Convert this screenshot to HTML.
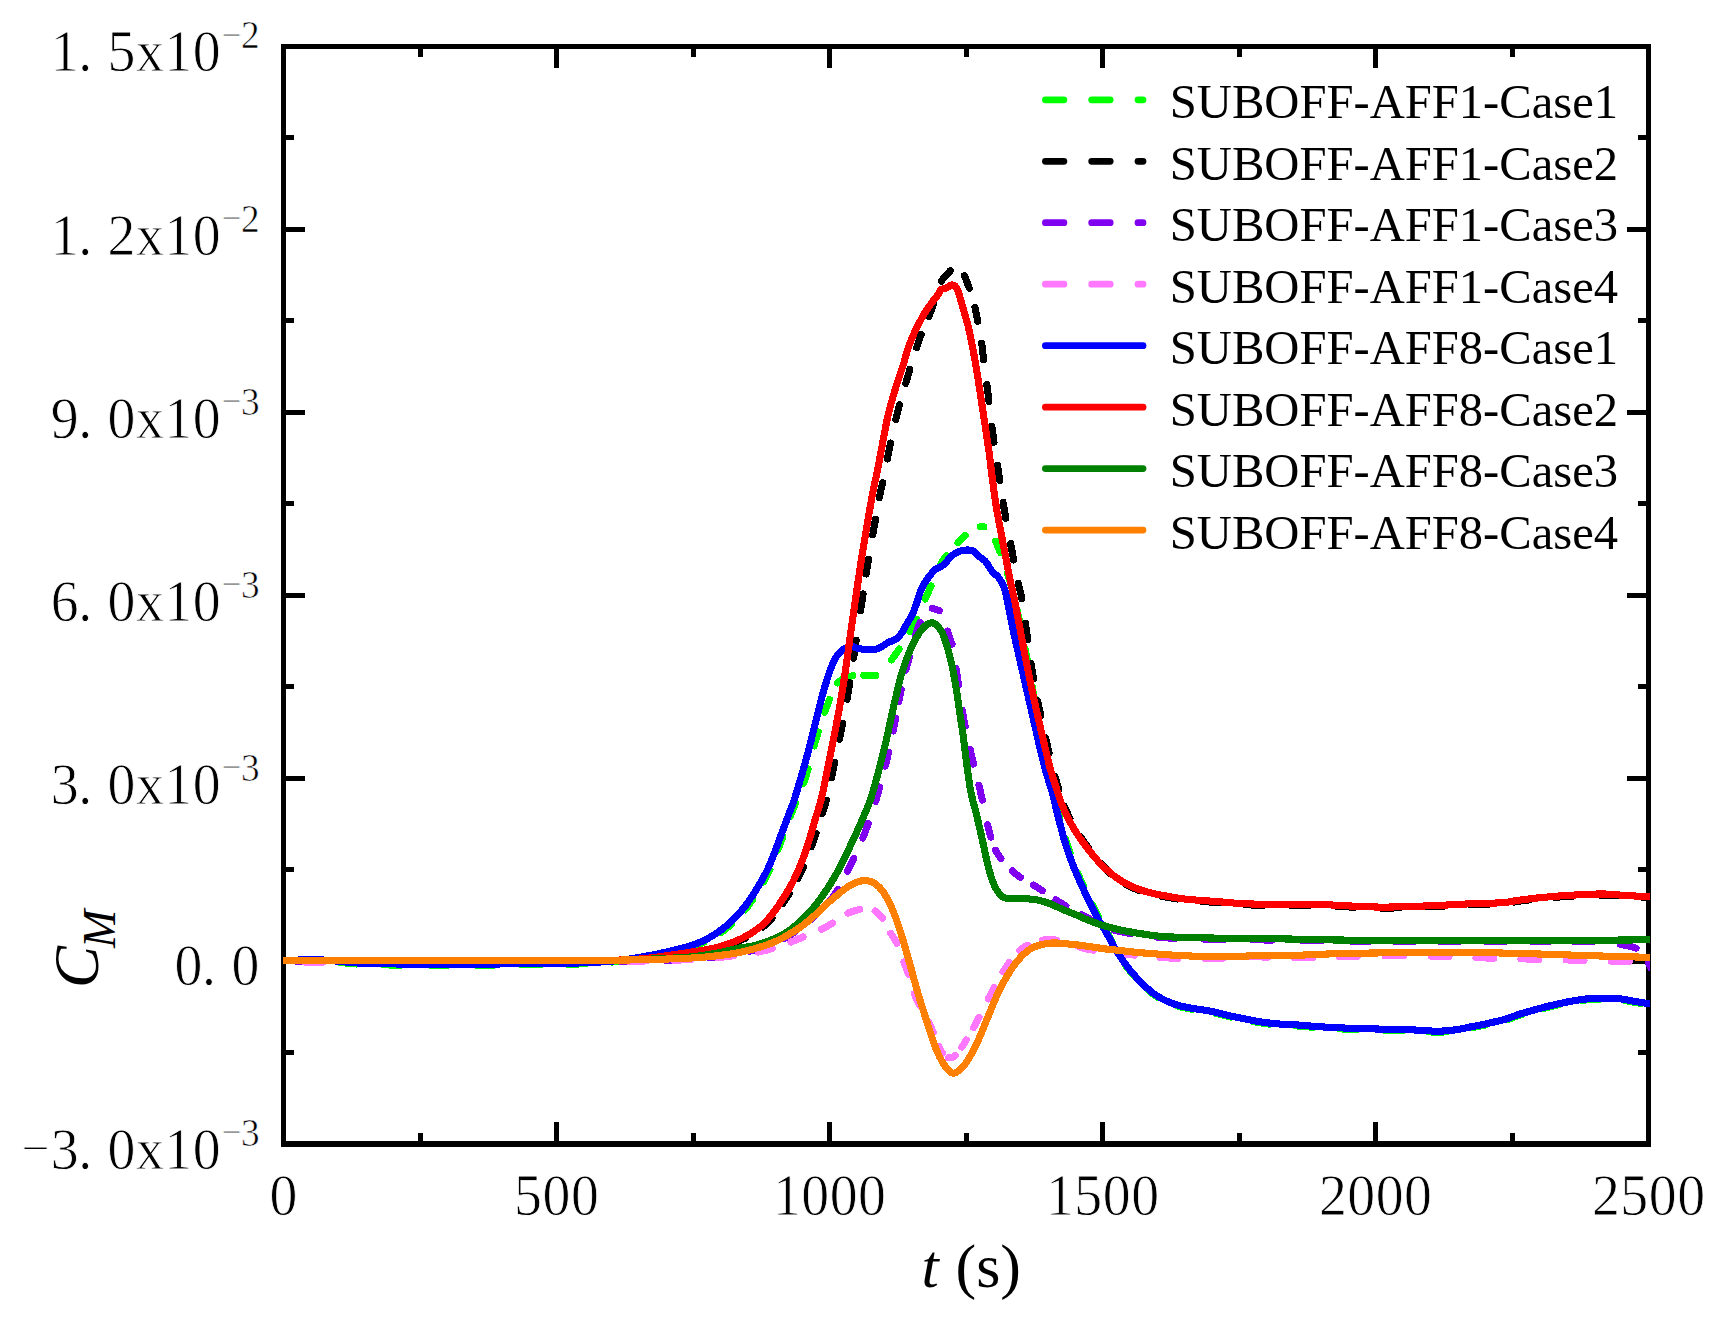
<!DOCTYPE html>
<html lang="en"><head><meta charset="utf-8"><title>CM vs t - SUBOFF AFF1 / AFF8</title>
<style>html,body{margin:0;padding:0;background:#fff;}body{width:1726px;height:1325px;overflow:hidden;}svg{display:block;}text{font-family:"Liberation Serif", "Noto Serif CJK SC", serif;fill:#000;}.tk{font-size:60px;text-anchor:middle;stroke:#fff;stroke-width:0.8px;}.sp{font-size:40px;text-anchor:middle;stroke:#fff;stroke-width:0.6px;}.lg{font-size:48.6px;}.cv{fill:none;stroke-linejoin:round;stroke-linecap:round;}</style></head><body>
<svg width="1726" height="1325" viewBox="0 0 1726 1325">
<rect width="1726" height="1325" fill="#fff"/>
<defs><clipPath id="plot"><rect x="283" y="49" width="1367" height="1092"/></clipPath></defs>
<g fill="#000" shape-rendering="crispEdges">
<rect x="281" y="44" width="5" height="1103"/>
<rect x="1646" y="44" width="5" height="1103"/>
<rect x="281" y="44" width="1370" height="5"/>
<rect x="281" y="1141" width="1370" height="6"/>
<rect x="418" y="1133" width="5" height="8"/>
<rect x="418" y="49" width="5" height="8"/>
<rect x="554" y="1122" width="5" height="19"/>
<rect x="554" y="49" width="5" height="19"/>
<rect x="691" y="1133" width="5" height="8"/>
<rect x="691" y="49" width="5" height="8"/>
<rect x="827" y="1122" width="5" height="19"/>
<rect x="827" y="49" width="5" height="19"/>
<rect x="964" y="1133" width="5" height="8"/>
<rect x="964" y="49" width="5" height="8"/>
<rect x="1100" y="1122" width="5" height="19"/>
<rect x="1100" y="49" width="5" height="19"/>
<rect x="1237" y="1133" width="5" height="8"/>
<rect x="1237" y="49" width="5" height="8"/>
<rect x="1373" y="1122" width="5" height="19"/>
<rect x="1373" y="49" width="5" height="19"/>
<rect x="1510" y="1133" width="5" height="8"/>
<rect x="1510" y="49" width="5" height="8"/>
<rect x="286" y="1050" width="8" height="5"/>
<rect x="1638" y="1050" width="8" height="5"/>
<rect x="286" y="959" width="19" height="5"/>
<rect x="1627" y="959" width="19" height="5"/>
<rect x="286" y="867" width="8" height="5"/>
<rect x="1638" y="867" width="8" height="5"/>
<rect x="286" y="776" width="19" height="5"/>
<rect x="1627" y="776" width="19" height="5"/>
<rect x="286" y="684" width="8" height="5"/>
<rect x="1638" y="684" width="8" height="5"/>
<rect x="286" y="593" width="19" height="5"/>
<rect x="1627" y="593" width="19" height="5"/>
<rect x="286" y="501" width="8" height="5"/>
<rect x="1638" y="501" width="8" height="5"/>
<rect x="286" y="410" width="19" height="5"/>
<rect x="1627" y="410" width="19" height="5"/>
<rect x="286" y="318" width="8" height="5"/>
<rect x="1638" y="318" width="8" height="5"/>
<rect x="286" y="227" width="19" height="5"/>
<rect x="1627" y="227" width="19" height="5"/>
<rect x="286" y="135" width="8" height="5"/>
<rect x="1638" y="135" width="8" height="5"/>
</g>
<g clip-path="url(#plot)" shape-rendering="crispEdges">
<path class="cv" d="M283.5 961.4C289.0 961.3 294.5 961.2 300.0 961.0C304.3 960.9 308.7 960.4 313.0 960.5C318.7 960.6 324.3 961.1 330.0 961.5C341.7 962.4 353.3 964.0 365.0 964.5C383.3 965.2 401.7 964.9 420.0 965.0C443.3 965.1 466.7 965.1 490.0 965.0C513.3 964.9 536.7 964.9 560.0 964.5C573.3 964.3 586.7 963.7 600.0 963.0C606.7 962.6 613.4 962.0 620.0 961.3C627.4 960.5 634.7 959.5 642.0 958.3C650.4 956.9 658.8 955.2 667.1 953.3C675.5 951.4 683.9 949.5 692.1 947.0C696.4 945.7 700.6 943.9 704.7 942.0C709.0 940.0 713.2 937.7 717.2 935.1C721.6 932.3 725.8 929.1 729.7 925.7C734.1 921.8 738.5 917.7 742.3 913.2C746.8 907.9 751.0 902.1 754.8 896.2C759.3 889.3 763.4 882.1 767.3 874.9C769.7 870.5 771.7 865.8 773.6 861.2C775.8 855.8 777.8 850.3 779.8 844.9C781.9 839.2 784.0 833.6 786.1 827.9C788.2 822.3 790.3 816.6 792.4 811.0C793.7 807.7 794.9 804.3 796.2 801.0C799.3 793.0 803.1 785.1 805.7 776.9C809.8 764.1 812.5 750.9 816.4 738.0C819.6 727.2 823.0 716.5 827.0 706.0C830.1 698.1 832.6 689.1 837.7 682.9C840.8 679.1 846.6 677.2 851.5 676.0C857.0 674.7 863.2 675.7 869.0 675.4C871.9 675.3 875.6 676.4 877.8 674.7C884.4 669.5 890.1 661.8 895.3 654.7C900.1 648.2 903.4 640.7 907.8 634.0C908.8 632.4 910.7 631.4 911.5 629.7C917.3 617.8 922.3 605.4 927.8 593.3C932.8 582.4 936.6 570.8 942.9 560.7C947.9 552.6 955.2 545.9 961.7 538.8C964.2 536.1 967.1 533.6 970.0 531.3C971.8 529.9 973.9 528.4 976.0 527.6C977.8 526.9 979.8 526.8 981.7 526.8C983.5 526.8 985.5 526.8 987.0 527.5C988.4 528.2 989.6 529.7 990.5 531.0C991.7 532.8 992.5 535.0 993.5 537.0C995.2 540.6 996.9 544.3 998.5 548.0C1000.4 552.6 1002.3 557.3 1004.0 562.0C1005.5 566.3 1006.7 570.6 1008.0 575.0C1010.4 583.3 1013.2 591.6 1015.0 600.0C1020.9 627.1 1026.2 654.3 1031.3 681.5C1036.5 709.6 1040.4 738.0 1046.0 766.0C1047.7 774.5 1051.0 782.7 1053.3 791.1C1055.5 799.4 1057.4 807.8 1059.5 816.1C1061.7 824.5 1063.7 832.9 1066.2 841.2C1068.8 849.7 1071.7 858.0 1074.9 866.3C1077.7 873.5 1080.9 880.5 1084.1 887.5C1087.1 894.1 1090.5 900.5 1093.7 907.0C1095.8 911.3 1097.7 915.8 1100.0 920.0C1102.0 923.6 1104.7 926.8 1106.6 930.5C1110.6 938.1 1113.3 946.3 1117.6 953.7C1121.2 959.9 1125.6 965.6 1130.1 971.2C1134.0 976.1 1138.3 980.7 1142.7 985.0C1146.6 988.8 1150.7 992.6 1155.2 995.7C1159.1 998.4 1163.4 1000.7 1167.7 1002.6C1171.7 1004.4 1176.0 1005.7 1180.3 1006.9C1184.4 1008.0 1188.6 1008.7 1192.8 1009.4C1196.9 1010.1 1201.2 1010.6 1205.3 1011.3C1209.5 1012.0 1213.7 1012.9 1217.8 1013.8C1222.0 1014.8 1226.2 1016.0 1230.4 1017.0C1234.5 1017.9 1238.7 1018.7 1242.9 1019.5C1247.1 1020.3 1251.2 1021.3 1255.4 1022.0C1259.6 1022.7 1263.8 1023.4 1268.0 1023.9C1272.2 1024.4 1276.3 1024.8 1280.5 1025.1C1285.7 1025.5 1290.8 1025.5 1296.0 1025.9C1304.1 1026.4 1312.1 1027.3 1320.2 1027.8C1330.3 1028.4 1340.3 1028.9 1350.4 1029.3C1360.5 1029.7 1370.5 1029.8 1380.6 1030.1C1390.7 1030.3 1400.7 1030.5 1410.8 1030.8C1415.8 1031.0 1420.8 1031.3 1425.8 1031.6C1429.8 1031.8 1433.9 1032.4 1437.9 1032.3C1443.9 1032.1 1450.0 1031.6 1456.0 1030.8C1461.1 1030.1 1466.1 1028.8 1471.1 1027.8C1476.1 1026.8 1481.2 1025.9 1486.2 1024.8C1492.8 1023.3 1499.5 1021.9 1506.0 1020.0C1510.8 1018.6 1515.4 1016.4 1520.2 1015.0C1530.2 1012.0 1540.3 1009.1 1550.4 1006.7C1560.4 1004.3 1570.5 1002.1 1580.6 1000.6C1588.1 999.5 1595.7 999.3 1603.2 999.1C1608.2 999.0 1613.3 999.1 1618.3 999.6C1623.4 1000.1 1628.4 1001.3 1633.4 1002.1C1639.6 1003.1 1645.8 1004.2 1652.0 1005.2" stroke="#00ff00" stroke-width="7.1" stroke-dasharray="17.8 26.0 17.0 26.9 18.4 27.7 18.5 27.8 18.4 27.7 18.4 27.4 17.9 26.2 16.8 24.2 15.6 22.9 14.4 20.4 13.2 19.7 13.2 20.2 13.7 21.3 14.4 21.6 14.4 21.3 15.0 23.7 14.7 20.6 13.8 18.5 17.0 10.9 12.0 22.3 13.5 20.5 14.1 21.9 14.4 21.3 12.7 17.3 10.3 17.8 3.5 19.5 12.2 21.9 14.9 23.0 15.6 23.6 15.8 23.8 16.0 24.2 16.1 23.9 15.1 22.6 15.3 22.8 14.7 21.6 14.0 20.8 13.9 20.4 14.0 20.3 13.2 19.7 13.2 21.0 15.5 24.1 15.3 23.6 16.2 26.1 17.2 26.3 17.8 27.2 18.1 26.6 17.5 24.4 15.7 23.0 14.5 22.5 15.3 23.8 17.2 26.3 16.0 5000.0" stroke-dashoffset="-12.6"/>
<path class="cv" d="M283.5 960.4C389.0 960.4 494.5 960.6 600.0 960.4C613.3 960.4 626.7 960.8 640.0 959.6C657.8 958.1 675.4 954.9 693.1 952.3C701.5 951.0 709.9 949.7 718.2 947.9C722.4 947.0 726.6 945.5 730.7 944.1C735.0 942.6 739.2 941.0 743.3 939.1C747.6 937.1 751.9 934.9 755.8 932.2C760.2 929.2 764.6 926.0 768.3 922.2C772.9 917.4 776.9 911.9 780.8 906.5C785.4 900.0 789.7 893.3 793.7 886.5C796.2 882.4 798.2 878.2 800.3 873.9C802.6 869.0 804.9 864.0 806.9 858.9C809.4 852.7 811.6 846.4 813.7 840.1C816.1 833.0 818.2 825.9 820.4 818.8C822.4 812.5 824.8 806.4 826.5 800.0C828.9 790.7 830.7 781.2 832.7 771.8C835.3 759.3 837.9 746.8 840.4 734.3C842.9 721.8 845.3 709.3 847.5 696.7C849.7 684.2 851.6 671.6 853.4 659.1C854.7 650.7 855.8 642.4 857.0 634.0C859.0 620.4 861.1 606.9 863.2 593.3C865.2 580.8 867.0 568.2 869.1 555.7C871.2 543.1 873.5 530.6 875.7 518.1C877.2 509.8 878.6 501.4 880.3 493.1C882.0 484.7 884.1 476.4 885.8 468.0C886.9 462.4 887.7 456.7 888.9 451.1C891.6 438.1 894.4 425.1 897.6 412.3C900.6 400.3 904.2 388.5 907.7 376.6C911.3 364.6 914.9 352.6 918.9 340.8C920.7 335.4 922.9 330.2 925.0 325.0C926.9 320.3 929.1 315.7 931.0 311.0C932.8 306.4 934.4 301.7 936.0 297.0C937.7 292.0 938.8 286.7 941.0 282.0C942.1 279.6 944.3 277.6 946.0 275.5C947.7 273.5 949.5 271.5 951.3 269.6C952.5 268.4 953.6 266.7 955.0 266.0C955.8 265.6 957.2 266.0 958.0 266.5C959.2 267.3 960.1 268.8 961.0 270.0C961.9 271.2 962.8 272.4 963.5 273.8C964.8 276.4 965.9 279.2 967.0 282.0C968.1 284.9 969.2 287.8 970.1 290.7C971.6 295.4 973.1 300.0 974.3 304.8C975.8 311.0 976.9 317.3 978.1 323.5C979.2 329.3 980.5 335.1 981.4 340.9C982.4 347.6 982.9 354.4 983.7 361.1C985.0 371.7 986.6 382.3 987.9 392.9C989.6 406.7 991.1 420.5 992.9 434.2C994.2 444.1 995.8 453.9 997.3 463.7C999.4 477.7 1001.3 491.7 1003.6 505.6C1005.7 518.2 1008.1 530.7 1010.5 543.2C1012.9 555.7 1015.3 568.3 1017.8 580.8C1019.1 587.2 1021.0 593.5 1022.0 600.0C1026.4 627.1 1029.1 654.5 1034.0 681.5C1039.1 709.8 1045.6 737.9 1052.0 766.0C1053.4 772.4 1055.6 778.6 1057.5 784.8C1059.4 791.1 1061.1 797.5 1063.4 803.6C1065.5 809.2 1068.0 814.6 1070.6 819.9C1073.2 825.0 1076.1 830.0 1079.2 834.9C1082.2 839.6 1085.5 844.2 1089.0 848.7C1092.9 853.8 1097.1 858.8 1101.4 863.7C1105.1 867.9 1108.7 872.4 1112.9 876.0C1116.7 879.3 1121.0 882.0 1125.4 884.4C1129.4 886.6 1133.7 888.4 1138.0 890.0C1142.1 891.5 1146.3 892.7 1150.5 893.8C1155.6 895.1 1160.8 896.0 1166.0 897.0C1170.8 897.9 1175.5 898.8 1180.3 899.5C1184.4 900.1 1188.6 900.4 1192.8 900.8C1197.0 901.2 1201.1 901.4 1205.3 901.7C1209.5 902.0 1213.6 902.3 1217.8 902.6C1222.0 903.0 1226.2 903.5 1230.4 903.8C1234.6 904.1 1238.7 904.4 1242.9 904.6C1247.1 904.8 1251.2 905.0 1255.4 905.1C1259.6 905.2 1263.8 905.4 1268.0 905.4C1275.3 905.5 1282.7 905.5 1290.0 905.5C1300.1 905.5 1310.1 905.3 1320.2 905.5C1330.3 905.8 1340.3 906.6 1350.4 907.0C1360.5 907.4 1370.5 908.0 1380.6 908.1C1390.7 908.2 1400.7 907.8 1410.8 907.5C1420.8 907.2 1430.9 906.7 1440.9 906.3C1451.0 905.8 1461.0 905.2 1471.1 904.8C1477.4 904.5 1483.7 904.6 1490.0 904.3C1495.3 904.1 1500.7 903.9 1506.0 903.3C1510.8 902.8 1515.4 901.6 1520.2 901.0C1530.2 899.7 1540.3 898.6 1550.4 897.7C1560.4 896.8 1570.5 896.2 1580.6 895.7C1588.1 895.3 1595.7 894.9 1603.2 895.0C1610.7 895.1 1618.3 896.0 1625.8 896.5C1634.5 897.0 1643.3 897.5 1652.0 898.0" stroke="#000000" stroke-width="7.1" stroke-dasharray="18.5 27.8 18.5 27.8 18.5 27.8 18.5 27.8 18.5 27.8 18.5 27.8 18.5 27.7 18.3 25.8 16.4 24.4 16.1 22.8 14.5 21.0 12.8 18.2 11.7 17.1 13.0 22.0 14.2 20.4 14.1 23.3 15.6 23.5 16.0 24.8 16.5 24.9 18.3 30.0 16.7 20.2 15.0 24.7 15.6 22.2 15.3 24.2 16.2 23.9 15.4 22.2 14.9 22.5 14.0 19.4 14.2 23.6 13.8 20.7 13.6 19.8 14.3 22.4 16.4 25.3 16.8 25.0 16.2 23.5 15.2 22.1 16.0 26.0 16.6 23.9 15.7 24.7 16.4 24.1 15.6 22.7 15.1 22.6 15.5 23.8 13.8 18.3 13.0 20.9 13.7 20.5 13.4 20.0 14.1 22.8 15.9 25.4 17.3 25.9 17.9 27.6 18.4 27.0 17.6 26.9 18.2 26.9 17.7 26.5 18.0 25.7 16.4 25.4 17.4 26.7 17.7 26.2 9.4 5000.0" stroke-dashoffset="-2.0"/>
<path class="cv" d="M283.5 961.6C389.0 961.6 494.5 961.7 600.0 961.6C613.3 961.6 626.7 961.5 640.0 961.2C656.7 960.8 673.4 960.2 690.1 959.3C698.5 958.9 706.9 958.2 715.2 957.2C723.6 956.2 732.0 955.2 740.3 953.5C748.7 951.7 757.1 949.2 765.3 946.6C769.6 945.2 773.8 943.5 777.8 941.6C782.1 939.6 786.3 937.2 790.4 934.7C794.7 932.1 799.0 929.5 802.9 926.5C807.3 923.1 811.5 919.4 815.4 915.5C821.9 909.0 829.0 902.7 834.2 895.2C840.7 885.9 845.5 875.4 850.5 865.2C855.4 855.3 860.0 845.3 864.0 835.0C868.5 823.5 872.3 811.8 876.0 800.0C878.9 790.7 881.4 781.2 883.8 771.8C886.0 763.5 887.9 755.2 889.8 746.8C891.7 738.5 893.3 730.1 895.0 721.7C896.7 713.4 898.1 705.0 899.8 696.7C901.5 688.3 903.2 679.9 905.3 671.6C907.0 665.0 909.2 658.6 911.0 652.0C912.7 645.8 914.1 639.5 916.0 633.3C917.2 629.5 918.8 625.8 920.2 622.0C921.4 618.8 922.3 615.3 924.0 612.5C924.9 610.9 926.6 609.6 928.2 608.8C929.3 608.2 930.8 608.2 932.0 608.3C933.7 608.5 935.4 609.2 937.0 609.8C938.9 610.6 941.4 611.0 942.6 612.5C944.0 614.3 944.4 617.1 945.0 619.5C945.8 622.4 946.0 625.3 946.8 628.2C947.9 632.3 949.2 636.3 950.5 640.3C951.2 642.4 952.3 644.4 952.7 646.5C954.6 656.5 955.8 666.6 957.3 676.6C959.4 690.4 961.1 704.3 963.6 718.0C966.0 731.0 968.9 743.9 971.8 756.8C974.5 768.5 977.8 780.2 980.5 791.9C983.7 805.4 985.8 819.1 989.5 832.4C991.5 839.7 993.6 847.4 997.6 853.7C1002.5 861.4 1009.4 868.4 1016.4 874.4C1022.7 879.7 1030.7 883.1 1037.7 887.6C1045.3 892.5 1052.6 897.9 1060.3 902.6C1069.3 908.0 1078.6 912.9 1087.8 918.0C1093.5 921.2 1098.9 925.4 1105.0 927.6C1113.0 930.5 1121.6 931.9 1130.0 933.4C1138.3 934.9 1146.6 935.9 1155.0 936.8C1163.3 937.7 1171.7 938.3 1180.0 938.6C1196.7 939.2 1213.3 939.4 1230.0 939.6C1252.0 939.9 1274.0 940.0 1296.0 940.3C1330.7 940.7 1365.3 941.5 1400.0 941.6C1466.7 941.9 1533.3 941.4 1600.0 941.6C1603.3 941.6 1606.7 941.9 1610.0 942.3C1612.8 942.6 1615.6 943.2 1618.3 943.8C1625.1 945.4 1632.3 946.6 1638.7 949.1C1640.9 950.0 1642.6 952.1 1644.0 954.0C1645.7 956.4 1646.7 959.3 1648.0 962.0C1649.0 964.0 1650.0 966.0 1651.0 968.0" stroke="#8000f0" stroke-width="7.1" stroke-dasharray="18.5 27.8 18.5 27.8 18.5 27.8 18.5 27.8 18.5 27.8 18.5 27.8 18.5 27.7 18.2 27.0 17.7 26.0 16.6 23.7 14.9 21.2 13.5 19.9 12.0 16.5 12.2 20.6 14.3 22.4 15.3 23.4 15.0 21.6 14.4 21.7 12.9 17.0 12.3 19.7 13.9 23.0 13.3 20.3 7.4 22.9 14.0 24.7 16.8 25.2 16.3 23.8 15.1 21.6 15.5 25.1 12.9 13.8 10.0 16.8 10.5 15.1 10.4 16.3 11.6 18.5 13.4 22.7 16.8 26.4 18.4 28.8 19.5 29.3 19.6 29.3 19.5 29.2 18.5 26.4 17.9 27.2 18.2 27.4 18.2 27.4 17.5 25.2 18.4 27.8 16.0 20.6 5.5 5000.0" stroke-dashoffset="-13.6"/>
<path class="cv" d="M283.5 962.0C304.0 962.0 324.5 962.1 345.0 962.0C363.3 961.9 381.7 961.3 400.0 961.2C480.0 960.9 560.0 961.6 640.0 961.0C660.0 960.9 680.0 960.2 700.0 959.0C713.4 958.2 726.7 956.7 740.0 955.0C748.4 953.9 756.8 952.4 765.0 950.5C770.1 949.4 775.1 947.7 780.0 946.0C785.6 944.1 791.1 942.0 796.6 939.7C806.7 935.5 817.0 931.6 826.7 926.6C833.5 923.1 839.2 917.4 846.0 914.0C851.2 911.4 857.0 910.2 862.6 908.6C864.3 908.1 866.1 907.6 867.8 907.7C869.6 907.9 871.5 908.4 873.0 909.5C876.7 912.2 880.6 915.3 883.4 919.0C886.1 922.6 887.3 927.2 889.5 931.2C892.2 936.0 895.8 940.3 898.1 945.3C900.4 950.2 901.6 955.6 903.4 960.7C905.1 965.4 907.0 969.9 908.6 974.6C911.3 982.7 913.1 991.1 916.4 998.9C919.7 1006.7 924.7 1013.8 928.5 1021.4C930.5 1025.4 932.0 1029.5 933.7 1033.6C936.0 1039.1 937.7 1045.0 940.7 1050.1C942.4 1053.0 944.9 1056.3 947.6 1057.5C949.5 1058.3 952.9 1057.5 954.6 1056.1C958.1 1053.3 960.6 1048.8 963.2 1044.9C967.6 1038.1 971.6 1031.1 975.4 1024.0C980.8 1014.0 985.6 1003.7 991.0 993.7C995.7 984.9 1000.1 975.7 1005.8 967.6C1010.8 960.5 1016.1 952.8 1023.1 948.0C1029.7 943.4 1038.6 940.5 1046.6 939.5C1052.8 938.7 1059.4 941.0 1065.7 942.5C1072.1 944.0 1078.3 946.7 1084.7 948.5C1087.2 949.2 1089.9 949.6 1092.5 950.0C1096.7 950.7 1100.8 951.5 1105.0 952.0C1113.3 953.0 1121.7 953.9 1130.0 954.7C1138.3 955.5 1146.7 956.4 1155.0 957.0C1163.3 957.6 1171.7 958.2 1180.0 958.5C1188.3 958.8 1196.7 958.8 1205.0 958.7C1213.3 958.6 1221.7 958.1 1230.0 957.8C1238.3 957.5 1246.7 956.8 1255.0 956.8C1266.7 956.8 1278.3 958.1 1290.0 958.0C1310.0 957.9 1330.0 956.7 1350.0 956.3C1366.7 956.0 1383.3 955.8 1400.0 955.8C1416.7 955.8 1433.3 956.1 1450.0 956.5C1463.3 956.8 1476.7 957.7 1490.0 958.1C1510.0 958.7 1530.0 959.0 1550.0 959.5C1566.7 959.9 1583.3 960.4 1600.0 960.8C1617.3 961.2 1634.7 961.6 1652.0 962.0" stroke="#ff78ff" stroke-width="7.1" stroke-dasharray="18.5 27.7 18.2 27.4 18.4 27.8 18.5 27.8 18.5 27.8 18.5 27.8 18.5 27.7 18.4 27.2 17.7 26.0 16.8 24.4 14.7 19.8 13.1 19.8 12.7 18.6 12.2 16.5 10.3 17.2 11.8 20.0 13.1 20.1 13.0 19.1 11.5 14.9 7.5 8.0 7.1 10.5 8.3 14.5 11.7 20.5 12.8 18.1 11.2 15.7 9.9 15.0 14.3 23.1 15.4 24.7 16.9 25.7 17.5 27.4 17.9 26.6 18.1 26.9 18.1 26.9 18.1 27.5 18.4 27.5 18.1 26.8 17.8 27.2 18.1 27.1 18.0 27.1 18.1 5000.0" stroke-dashoffset="-21.4"/>
<path class="cv" d="M283.5 960.4C289.0 960.3 294.5 960.2 300.0 960.0C304.3 959.9 308.7 959.4 313.0 959.5C318.7 959.6 324.3 960.1 330.0 960.5C341.7 961.4 353.3 963.0 365.0 963.5C383.3 964.2 401.7 963.9 420.0 964.0C443.3 964.1 466.7 964.1 490.0 964.0C513.3 963.9 536.7 963.9 560.0 963.5C573.3 963.3 586.7 962.7 600.0 962.0C606.7 961.6 613.4 961.1 620.0 960.3C626.7 959.5 633.4 958.5 640.0 957.3C648.4 955.8 656.8 954.2 665.1 952.3C673.5 950.4 681.9 948.5 690.1 946.0C694.4 944.7 698.6 942.9 702.7 941.0C707.0 939.0 711.2 936.7 715.2 934.1C719.6 931.3 723.8 928.1 727.7 924.7C732.1 920.8 736.5 916.7 740.3 912.2C744.8 906.9 749.0 901.1 752.8 895.2C757.3 888.3 761.4 881.1 765.3 873.9C767.7 869.5 769.7 864.8 771.6 860.2C773.8 854.8 775.8 849.3 777.8 843.9C779.9 838.2 782.0 832.6 784.1 826.9C786.2 821.3 788.3 815.6 790.4 810.0C791.7 806.7 793.1 803.4 794.2 800.0C797.2 790.7 799.9 781.2 802.6 771.8C805.0 763.5 807.3 755.2 809.5 746.8C811.7 738.5 813.6 730.1 815.7 721.7C817.8 713.4 819.7 705.0 822.0 696.7C823.7 690.4 825.6 684.1 827.6 677.9C828.9 673.7 830.3 669.4 832.0 665.3C833.2 662.3 834.5 659.2 836.4 656.6C838.5 653.8 841.0 650.9 843.9 649.0C846.1 647.6 849.0 646.6 851.5 646.5C853.6 646.4 855.6 648.0 857.7 648.4C861.0 649.0 864.4 649.6 867.7 649.7C870.6 649.8 873.7 649.7 876.5 649.0C878.7 648.4 880.8 647.0 882.8 645.9C884.9 644.7 886.8 643.2 889.0 642.1C891.0 641.1 893.5 640.8 895.3 639.6C897.5 638.1 899.4 636.1 901.0 634.0C903.2 631.1 904.7 627.7 906.5 624.6C908.6 620.9 911.0 617.3 912.8 613.4C914.8 609.0 916.2 604.2 917.8 599.6C919.1 595.9 919.9 591.9 921.6 588.3C923.3 584.8 925.5 581.5 927.8 578.3C930.1 575.2 932.4 572.0 935.3 569.5C937.8 567.4 941.5 566.6 944.1 564.5C946.6 562.5 948.0 559.2 950.4 557.0C952.6 555.0 955.2 553.2 957.9 552.0C960.2 550.9 962.9 550.3 965.4 550.1C967.9 549.9 970.8 549.7 972.9 550.7C974.9 551.6 976.1 554.2 977.9 555.7C980.3 557.7 983.4 559.1 985.5 561.4C988.0 564.1 989.3 567.9 991.7 570.8C993.9 573.5 997.2 575.5 999.2 578.3C1001.4 581.3 1003.0 584.8 1004.3 588.3C1005.7 592.0 1006.4 596.1 1007.2 600.0C1009.6 611.3 1011.5 622.7 1014.0 634.0C1018.8 656.0 1024.0 678.0 1029.0 700.0C1034.1 722.0 1038.8 744.1 1044.3 766.0C1046.4 774.5 1049.5 782.7 1051.8 791.1C1054.1 799.4 1055.9 807.8 1058.0 816.1C1060.2 824.5 1062.2 832.9 1064.7 841.2C1067.3 849.7 1070.2 858.0 1073.4 866.3C1076.2 873.5 1079.4 880.5 1082.6 887.5C1085.6 894.1 1089.0 900.5 1092.2 907.0C1094.3 911.3 1096.2 915.8 1098.5 920.0C1100.5 923.6 1103.0 926.9 1105.1 930.5C1109.4 937.8 1113.1 945.5 1117.6 952.7C1121.4 958.8 1125.6 964.6 1130.1 970.2C1134.0 975.1 1138.3 979.7 1142.7 984.0C1146.6 987.8 1150.7 991.6 1155.2 994.7C1159.1 997.4 1163.4 999.7 1167.7 1001.6C1171.7 1003.4 1176.0 1004.7 1180.3 1005.9C1184.4 1007.0 1188.6 1007.7 1192.8 1008.4C1196.9 1009.1 1201.2 1009.6 1205.3 1010.3C1209.5 1011.0 1213.7 1011.9 1217.8 1012.8C1222.0 1013.8 1226.2 1015.0 1230.4 1016.0C1234.5 1016.9 1238.7 1017.7 1242.9 1018.5C1247.1 1019.3 1251.2 1020.3 1255.4 1021.0C1259.6 1021.7 1263.8 1022.4 1268.0 1022.9C1272.2 1023.4 1276.3 1023.8 1280.5 1024.1C1285.7 1024.5 1290.8 1024.5 1296.0 1024.9C1304.1 1025.4 1312.1 1026.3 1320.2 1026.8C1330.3 1027.4 1340.3 1027.9 1350.4 1028.3C1360.5 1028.7 1370.5 1028.8 1380.6 1029.1C1390.7 1029.3 1400.7 1029.5 1410.8 1029.8C1415.8 1030.0 1420.8 1030.3 1425.8 1030.6C1429.8 1030.8 1433.9 1031.4 1437.9 1031.3C1443.9 1031.1 1450.0 1030.6 1456.0 1029.8C1461.1 1029.1 1466.1 1027.8 1471.1 1026.8C1476.1 1025.8 1481.2 1024.9 1486.2 1023.8C1492.8 1022.3 1499.5 1020.9 1506.0 1019.0C1510.8 1017.6 1515.4 1015.4 1520.2 1014.0C1530.2 1011.0 1540.3 1008.1 1550.4 1005.7C1560.4 1003.3 1570.5 1001.1 1580.6 999.6C1588.1 998.5 1595.7 998.3 1603.2 998.1C1608.2 998.0 1613.3 998.1 1618.3 998.6C1623.4 999.1 1628.4 1000.3 1633.4 1001.1C1639.6 1002.1 1645.8 1003.2 1652.0 1004.2" stroke="#0000ff" stroke-width="7.1"/>
<path class="cv" d="M283.5 960.4C389.0 960.4 494.5 960.8 600.0 960.4C613.3 960.3 626.7 960.2 640.0 959.0C656.8 957.5 673.4 954.8 690.1 952.3C698.5 951.1 706.9 949.7 715.2 947.9C719.4 947.0 723.6 945.5 727.7 944.1C732.0 942.6 736.2 941.0 740.3 939.1C744.6 937.1 748.9 934.9 752.8 932.2C757.2 929.2 761.6 926.0 765.3 922.2C769.9 917.4 774.0 912.0 777.8 906.5C782.3 900.1 786.5 893.3 790.4 886.5C792.7 882.5 794.7 878.2 796.6 873.9C798.8 869.0 801.0 864.0 802.9 858.9C805.2 852.7 807.2 846.4 809.2 840.1C811.4 833.0 813.3 825.9 815.4 818.8C817.2 812.5 819.4 806.3 821.0 800.0C823.3 790.7 825.1 781.2 827.0 771.8C829.6 759.3 832.1 746.8 834.5 734.3C836.9 721.8 839.3 709.3 841.4 696.7C843.5 684.2 845.3 671.6 847.1 659.1C848.3 650.7 849.3 642.4 850.5 634.0C852.4 620.4 854.4 606.9 856.4 593.3C858.2 580.8 860.0 568.2 862.0 555.7C864.0 543.1 866.2 530.6 868.3 518.1C869.7 509.8 871.1 501.4 872.7 493.1C874.3 484.7 876.3 476.4 878.0 468.0C879.8 458.6 881.4 449.2 883.2 439.8C884.8 431.5 886.2 423.1 888.2 414.8C890.2 406.4 892.6 398.0 895.1 389.7C897.6 381.3 900.7 373.1 903.3 364.7C905.0 359.1 906.3 353.4 908.2 347.9C909.8 343.1 911.8 338.5 913.8 333.9C915.5 330.1 917.5 326.3 919.4 322.6C921.2 319.1 923.0 315.6 925.1 312.3C927.1 309.1 929.4 306.0 931.6 302.9C933.7 300.0 936.1 297.3 938.2 294.4C939.3 292.9 939.7 290.6 941.0 289.5C942.2 288.6 944.2 288.9 945.7 288.3C947.7 287.5 949.3 285.6 951.3 285.1C952.5 284.8 954.2 285.2 955.1 286.0C956.4 287.1 957.2 289.0 957.9 290.7C959.1 293.7 959.8 297.0 960.7 300.1C962.0 304.5 963.3 308.8 964.5 313.2C965.8 317.6 967.1 322.0 968.2 326.4C969.3 330.7 970.1 335.1 971.0 339.5C972.0 344.5 973.0 349.5 973.9 354.5C975.3 362.1 976.6 369.6 977.8 377.2C979.1 385.5 980.3 393.9 981.6 402.2C982.9 410.6 984.1 418.9 985.4 427.3C986.6 435.7 987.9 444.0 989.1 452.4C989.8 457.6 990.3 462.8 991.0 468.0C992.6 480.5 994.1 493.1 996.1 505.6C998.1 518.2 1000.6 530.7 1003.0 543.2C1005.4 555.7 1007.8 568.3 1010.3 580.8C1011.6 587.2 1013.2 593.6 1014.5 600.0C1019.9 627.1 1024.5 654.4 1030.2 681.5C1036.2 709.8 1042.7 737.9 1049.5 766.0C1051.0 772.4 1053.3 778.6 1055.3 784.8C1057.3 791.1 1059.1 797.5 1061.5 803.6C1063.7 809.2 1066.2 814.6 1069.0 819.9C1071.7 825.0 1074.6 830.1 1077.8 834.9C1080.9 839.7 1084.3 844.2 1087.8 848.7C1091.8 853.8 1095.9 859.0 1100.4 863.7C1104.3 867.8 1108.5 871.5 1112.9 875.0C1116.8 878.1 1121.0 881.0 1125.4 883.4C1129.4 885.6 1133.7 887.4 1138.0 889.0C1142.1 890.5 1146.3 891.7 1150.5 892.8C1155.6 894.1 1160.8 895.0 1166.0 896.0C1170.8 896.9 1175.5 897.8 1180.3 898.5C1184.4 899.1 1188.6 899.4 1192.8 899.8C1197.0 900.2 1201.1 900.4 1205.3 900.7C1209.5 901.0 1213.6 901.3 1217.8 901.6C1222.0 902.0 1226.2 902.5 1230.4 902.8C1234.6 903.1 1238.7 903.4 1242.9 903.6C1247.1 903.8 1251.2 904.0 1255.4 904.1C1259.6 904.2 1263.8 904.4 1268.0 904.4C1275.3 904.5 1282.7 904.5 1290.0 904.5C1300.1 904.5 1310.1 904.3 1320.2 904.5C1330.3 904.8 1340.3 905.6 1350.4 906.0C1360.5 906.4 1370.5 907.0 1380.6 907.1C1390.7 907.2 1400.7 906.8 1410.8 906.5C1420.8 906.2 1430.9 905.7 1440.9 905.3C1451.0 904.8 1461.0 904.2 1471.1 903.8C1477.4 903.5 1483.7 903.6 1490.0 903.3C1495.3 903.1 1500.7 902.9 1506.0 902.3C1510.8 901.8 1515.4 900.6 1520.2 900.0C1530.2 898.7 1540.3 897.6 1550.4 896.7C1560.4 895.8 1570.5 895.2 1580.6 894.7C1588.1 894.3 1595.7 893.9 1603.2 894.0C1610.7 894.1 1618.3 895.0 1625.8 895.5C1634.5 896.0 1643.3 896.5 1652.0 897.0" stroke="#ff0000" stroke-width="7.1"/>
<path class="cv" d="M283.5 960.4C389.0 960.4 494.5 960.7 600.0 960.4C613.3 960.4 626.7 960.0 640.0 959.5C656.7 958.9 673.4 958.3 690.0 957.0C698.4 956.3 706.7 955.0 715.0 953.5C723.5 952.0 731.8 949.6 740.3 947.9C744.4 947.1 748.7 946.9 752.8 946.0C757.0 945.0 761.2 943.6 765.3 942.2C769.5 940.7 773.8 939.2 777.8 937.2C782.2 935.0 786.5 932.6 790.4 929.7C794.8 926.5 799.0 922.8 802.9 919.0C807.3 914.7 811.5 910.1 815.4 905.3C819.9 899.7 824.1 893.8 828.0 887.7C832.5 880.8 836.7 873.7 840.5 866.4C845.0 857.8 848.8 848.9 853.0 840.1C854.0 838.0 855.1 835.9 856.0 833.8C860.8 822.6 866.2 811.5 870.3 800.0C873.6 790.8 875.8 781.2 878.4 771.8C880.6 763.5 882.7 755.2 884.7 746.8C886.7 738.5 888.4 730.1 890.3 721.7C892.2 713.4 893.9 705.0 895.9 696.7C897.9 688.3 899.6 679.8 902.2 671.6C904.9 663.1 908.1 654.7 911.6 646.5C913.5 642.1 915.9 638.0 918.5 634.0C920.4 631.1 922.4 628.2 925.0 626.0C926.8 624.4 929.4 622.9 931.6 622.8C933.4 622.7 935.6 624.1 937.0 625.5C939.4 627.9 941.6 630.8 942.9 634.0C946.1 642.0 948.4 650.6 950.5 659.1C952.6 667.3 954.0 675.7 955.5 684.1C956.9 692.4 958.0 700.8 959.2 709.2C960.5 717.6 961.8 725.9 963.0 734.3C964.3 743.5 965.2 752.8 966.5 762.0C967.8 771.7 968.9 781.5 970.7 791.1C972.3 799.5 974.9 807.7 976.9 816.1C978.9 824.4 980.7 832.8 982.6 841.2C984.3 848.7 985.7 856.2 987.6 863.7C989.1 869.6 990.5 875.6 992.6 881.3C993.9 884.8 995.5 888.3 997.6 891.3C999.3 893.7 1001.4 896.4 1003.9 897.6C1006.4 898.8 1009.8 898.5 1012.7 898.6C1016.9 898.8 1021.0 898.4 1025.2 898.6C1029.4 898.9 1033.6 899.3 1037.7 900.1C1042.0 901.0 1046.2 902.3 1050.3 903.8C1054.6 905.4 1058.6 907.7 1062.8 909.5C1066.9 911.3 1071.2 912.8 1075.3 914.5C1079.5 916.3 1083.6 918.3 1087.8 920.0C1091.9 921.7 1096.2 923.2 1100.4 924.6C1104.5 925.9 1108.7 927.1 1112.9 928.2C1117.0 929.3 1121.2 930.2 1125.4 931.0C1129.6 931.8 1133.8 932.5 1138.0 933.2C1143.7 934.1 1149.4 935.1 1155.2 935.8C1159.3 936.3 1163.5 936.3 1167.7 936.6C1171.9 936.9 1176.1 937.3 1180.3 937.4C1188.6 937.7 1197.0 937.8 1205.3 937.9C1213.7 938.1 1222.0 938.2 1230.4 938.3C1238.7 938.4 1247.1 938.5 1255.4 938.6C1268.9 938.8 1282.5 938.9 1296.0 939.1C1309.0 939.3 1322.0 939.8 1335.0 940.0C1356.7 940.2 1378.3 940.3 1400.0 940.3C1433.3 940.4 1466.7 940.3 1500.0 940.3C1533.3 940.3 1566.7 940.3 1600.0 940.2C1617.3 940.1 1634.7 939.9 1652.0 939.8" stroke="#008000" stroke-width="7.1"/>
<path class="cv" d="M283.5 960.4C322.3 960.4 361.2 960.4 400.0 960.4C433.3 960.4 466.7 960.4 500.0 960.4C533.3 960.4 566.7 960.3 600.0 960.2C613.3 960.1 626.7 960.1 640.0 959.8C656.7 959.4 673.4 958.9 690.1 958.1C698.5 957.7 706.9 957.0 715.2 956.0C723.6 955.0 732.0 954.0 740.3 952.3C748.7 950.5 757.1 948.0 765.3 945.4C769.6 944.0 773.8 942.3 777.8 940.4C782.1 938.4 786.3 936.0 790.4 933.5C794.7 930.9 798.9 928.3 802.9 925.3C807.3 922.0 811.3 918.3 815.4 914.7C819.7 910.8 823.7 906.6 828.0 902.8C832.1 899.2 836.2 895.7 840.5 892.3C843.1 890.2 845.8 888.1 848.7 886.3C851.5 884.6 854.4 883.0 857.4 882.0C860.1 881.1 863.2 880.3 866.0 880.5C869.0 880.7 872.2 881.7 874.7 883.4C878.0 885.6 881.1 888.8 883.4 892.1C886.9 897.2 889.7 902.9 892.1 908.6C895.5 916.5 898.2 924.7 900.8 932.9C903.9 942.6 906.6 952.5 909.4 962.4C912.4 972.8 915.0 983.3 918.1 993.7C920.8 1003.0 923.8 1012.2 926.8 1021.4C929.6 1030.1 932.1 1039.0 935.5 1047.5C937.9 1053.5 940.6 1059.5 944.1 1064.8C946.3 1068.1 949.6 1072.6 952.8 1073.2C955.4 1073.7 959.2 1070.6 961.5 1068.3C965.0 1064.9 967.7 1060.4 970.2 1056.1C973.5 1050.6 976.2 1044.7 978.9 1038.8C982.0 1032.0 984.6 1024.9 987.5 1018.0C990.4 1011.0 993.1 1004.0 996.2 997.1C998.9 991.2 1001.8 985.4 1004.9 979.8C1007.6 975.0 1010.4 970.3 1013.6 965.9C1016.2 962.2 1019.1 958.7 1022.3 955.5C1024.9 952.9 1027.8 950.4 1030.9 948.5C1033.5 946.9 1036.6 946.0 1039.6 945.1C1042.4 944.3 1045.4 943.7 1048.3 943.3C1051.2 943.0 1054.1 942.9 1057.0 943.0C1059.9 943.1 1062.8 943.4 1065.7 943.7C1068.6 944.0 1071.4 944.4 1074.3 944.7C1076.2 944.9 1078.1 945.0 1080.0 945.2C1084.2 945.7 1088.3 946.4 1092.5 947.0C1096.7 947.6 1100.9 948.4 1105.1 948.9C1109.3 949.4 1113.4 949.7 1117.6 950.2C1121.8 950.7 1125.9 951.3 1130.1 951.7C1134.3 952.2 1138.5 952.5 1142.7 952.9C1146.9 953.3 1151.0 953.6 1155.2 953.9C1159.4 954.2 1163.5 954.5 1167.7 954.8C1171.9 955.1 1176.1 955.4 1180.3 955.6C1184.5 955.8 1188.6 956.0 1192.8 956.1C1197.0 956.2 1201.1 956.4 1205.3 956.4C1213.7 956.5 1222.0 956.5 1230.4 956.4C1238.7 956.3 1247.1 956.0 1255.4 955.8C1263.8 955.6 1272.1 955.5 1280.5 955.4C1285.7 955.3 1290.8 955.4 1296.0 955.3C1304.0 955.1 1312.0 954.6 1320.0 954.3C1330.0 953.9 1340.0 953.5 1350.0 953.3C1366.7 953.0 1383.3 952.9 1400.0 952.8C1416.7 952.7 1433.3 952.8 1450.0 952.8C1463.3 952.8 1476.7 952.6 1490.0 952.8C1500.1 952.9 1510.1 953.3 1520.2 953.6C1530.3 953.8 1540.3 954.0 1550.4 954.3C1560.5 954.6 1570.5 955.1 1580.6 955.4C1590.7 955.7 1600.7 956.0 1610.8 956.3C1624.5 956.7 1638.3 957.0 1652.0 957.4" stroke="#ff8000" stroke-width="7.1"/>
</g>
<text class="tk" transform="scale(0.93,1)" y="71.3" x="69.6 91.6 130.6 161.2 191.7 222.3">1.5x10</text>
<text class="sp" transform="scale(0.93,1)" y="48.3" x="269.1">2</text>
<text y="46.6" x="231.5" style="font-size:36px;text-anchor:middle;stroke:#fff;stroke-width:0.9px">−</text>
<text class="tk" transform="scale(0.93,1)" y="255.1" x="69.6 91.6 130.6 161.2 191.7 222.3">1.2x10</text>
<text class="sp" transform="scale(0.93,1)" y="232.1" x="269.1">2</text>
<text y="230.4" x="231.5" style="font-size:36px;text-anchor:middle;stroke:#fff;stroke-width:0.9px">−</text>
<text class="tk" transform="scale(0.93,1)" y="438.1" x="69.6 91.6 130.6 161.2 191.7 222.3">9.0x10</text>
<text class="sp" transform="scale(0.93,1)" y="415.1" x="269.1">3</text>
<text y="413.4" x="231.5" style="font-size:36px;text-anchor:middle;stroke:#fff;stroke-width:0.9px">−</text>
<text class="tk" transform="scale(0.93,1)" y="620.9" x="69.6 91.6 130.6 161.2 191.7 222.3">6.0x10</text>
<text class="sp" transform="scale(0.93,1)" y="597.9" x="269.1">3</text>
<text y="596.1" x="231.5" style="font-size:36px;text-anchor:middle;stroke:#fff;stroke-width:0.9px">−</text>
<text class="tk" transform="scale(0.93,1)" y="803.8" x="69.6 91.6 130.6 161.2 191.7 222.3">3.0x10</text>
<text class="sp" transform="scale(0.93,1)" y="780.8" x="269.1">3</text>
<text y="779.1" x="231.5" style="font-size:36px;text-anchor:middle;stroke:#fff;stroke-width:0.9px">−</text>
<text class="tk" transform="scale(0.93,1)" y="984.6" x="202.7 224.7 263.8">0.0</text>
<text y="1165.3" x="35.4" style="font-size:50px;text-anchor:middle;stroke:#fff;stroke-width:1.1px">−</text>
<text class="tk" transform="scale(0.93,1)" y="1168.8" x="69.6 91.6 130.6 161.2 191.7 222.3">3.0x10</text>
<text class="sp" transform="scale(0.93,1)" y="1145.8" x="269.1">3</text>
<text y="1144.1" x="231.5" style="font-size:36px;text-anchor:middle;stroke:#fff;stroke-width:0.9px">−</text>
<text class="tk" transform="scale(0.93,1)" y="1215" x="304.8">0</text>
<text class="tk" transform="scale(0.93,1)" y="1215" x="567.8 598.4 628.9">500</text>
<text class="tk" transform="scale(0.93,1)" y="1215" x="846.1 876.7 907.2 937.7">1000</text>
<text class="tk" transform="scale(0.93,1)" y="1215" x="1139.7 1170.2 1200.8 1231.3">1500</text>
<text class="tk" transform="scale(0.93,1)" y="1215" x="1433.2 1463.8 1494.3 1524.8">2000</text>
<text class="tk" transform="scale(0.93,1)" y="1215" x="1726.8 1757.3 1787.8 1818.4">2500</text>
<text x="921.4" y="1287" style="font-size:62px"><tspan font-style="italic">t</tspan><tspan dx="1.4"> (s)</tspan></text>
<text transform="translate(98,988) rotate(-90)" style="font-size:63px;font-style:italic">C<tspan style="font-size:46px" dy="17" dx="-2">M</tspan></text>
<path class="cv" d="M1045.4 99.8H1143" stroke="#00ff00" stroke-width="6.8" stroke-dasharray="18.5 27.8"/>
<text class="lg" x="1169.8" y="118.0">SUBOFF-AFF1-Case1</text>
<path class="cv" d="M1045.4 161.3H1143" stroke="#000000" stroke-width="6.8" stroke-dasharray="18.5 27.8"/>
<text class="lg" x="1169.8" y="179.6">SUBOFF-AFF1-Case2</text>
<path class="cv" d="M1045.4 222.7H1143" stroke="#8000f0" stroke-width="6.8" stroke-dasharray="18.5 27.8"/>
<text class="lg" x="1169.8" y="241.1">SUBOFF-AFF1-Case3</text>
<path class="cv" d="M1045.4 284.2H1143" stroke="#ff78ff" stroke-width="6.8" stroke-dasharray="18.5 27.8"/>
<text class="lg" x="1169.8" y="302.7">SUBOFF-AFF1-Case4</text>
<path class="cv" d="M1045.4 345.7H1143" stroke="#0000ff" stroke-width="6.8"/>
<text class="lg" x="1169.8" y="364.3">SUBOFF-AFF8-Case1</text>
<path class="cv" d="M1045.4 407.2H1143" stroke="#ff0000" stroke-width="6.8"/>
<text class="lg" x="1169.8" y="425.9">SUBOFF-AFF8-Case2</text>
<path class="cv" d="M1045.4 468.6H1143" stroke="#008000" stroke-width="6.8"/>
<text class="lg" x="1169.8" y="487.4">SUBOFF-AFF8-Case3</text>
<path class="cv" d="M1045.4 530.1H1143" stroke="#ff8000" stroke-width="6.8"/>
<text class="lg" x="1169.8" y="549.0">SUBOFF-AFF8-Case4</text>
</svg></body></html>
